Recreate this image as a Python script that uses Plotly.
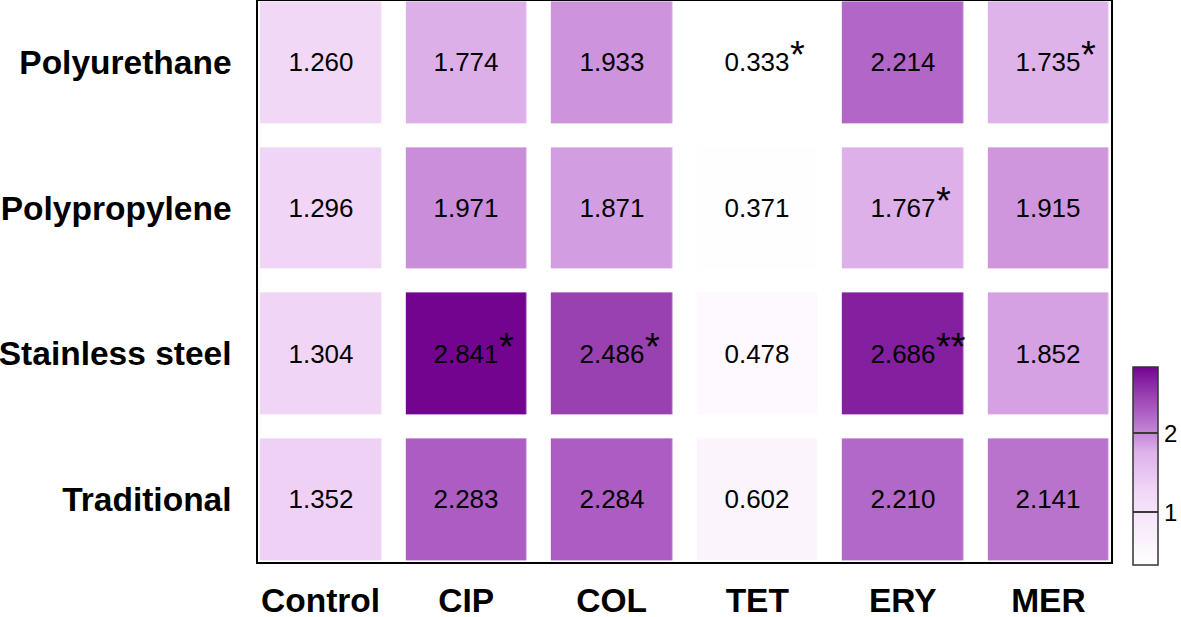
import plotly.graph_objects as go

materials = ["Polyurethane", "Polypropylene", "Stainless steel", "Traditional"]
treatments = ["Control", "CIP", "COL", "TET", "ERY", "MER"]

values = [
    [1.260, 1.774, 1.933, 0.333, 2.214, 1.735],
    [1.296, 1.971, 1.871, 0.371, 1.767, 1.915],
    [1.304, 2.841, 2.486, 0.478, 2.686, 1.852],
    [1.352, 2.283, 2.284, 0.602, 2.210, 2.141],
]

signif = [
    ["", "", "", "*", "", "*"],
    ["", "", "", "", "*", ""],
    ["", "*", "*", "", "**", ""],
    ["", "", "", "", "", ""],
]

colorbar_ticks = [1, 2]

FONT = "Liberation Sans, Arial, sans-serif"

colorscale = [
    [0.0, "#ffffff"],
    [0.37, "#f2d8f7"],
    [0.573, "#ddb0e9"],
    [0.637, "#cd93dd"],
    [0.748, "#b268c8"],
    [0.777, "#ac5cc2"],
    [0.858, "#9941b1"],
    [0.938, "#841fa0"],
    [1.0, "#72048f"],
]

xs = list(range(len(treatments)))
ys = list(range(len(materials)))

fig = go.Figure()
fig.add_trace(go.Heatmap(
    z=values, x=xs, y=ys,
    zmin=min(min(r) for r in values), zmax=max(max(r) for r in values),
    colorscale=colorscale,
    xgap=24.5, ygap=24,
    texttemplate="%{z:.3f}",
    textfont=dict(family=FONT, size=26, color="black"),
    hoverinfo="skip",
    colorbar=dict(
        thickness=25, lenmode="pixels", len=198,
        xref="container", x=1133 / 1181, xanchor="left", xpad=0,
        yref="paper", y=-0.005, yanchor="bottom", ypad=0,
        outlinecolor="#333333", outlinewidth=1.5,
        tickvals=colorbar_ticks, ticktext=[str(t) for t in colorbar_ticks],
        ticks="inside", ticklen=25, tickwidth=2, tickcolor="#3a3a3a",
        tickfont=dict(family=FONT, size=24, color="black"),
    ),
))

annotations = []
for i, row in enumerate(signif):
    for j, s in enumerate(row):
        if s:
            annotations.append(dict(
                x=xs[j], y=ys[i], xref="x", yref="y", text=s,
                showarrow=False, xanchor="left", yanchor="middle",
                xshift=31, yshift=7,
                font=dict(family=FONT, size=38, color="black"),
            ))

fig.update_layout(
    template="none",
    width=1181, height=617,
    margin=dict(l=258, r=70, t=1, b=55),
    paper_bgcolor="white", plot_bgcolor="white",
    annotations=annotations,
    xaxis=dict(
        automargin=False,
        range=[-0.43, 5.43], tickvals=xs, ticktext=treatments,
        showgrid=False, zeroline=False, ticks="",
        showline=True, linecolor="black", linewidth=1.5, mirror=True,
        tickfont=dict(family=FONT, size=33.5, color="black", weight="bold"),
        ticklabelstandoff=8,
    ),
    yaxis=dict(
        automargin=False,
        range=[3.43, -0.42], tickvals=ys, ticktext=materials,
        showgrid=False, zeroline=False, ticks="",
        showline=True, linecolor="black", linewidth=1.5, mirror=True,
        tickfont=dict(family=FONT, size=33.5, color="black", weight="bold"),
        ticklabelstandoff=18,
    ),
)

fig.write_html(
    "out.html",
    config={"displayModeBar": False},
    post_script="document.body.style.margin='0px';document.body.style.overflow='hidden';",
)
